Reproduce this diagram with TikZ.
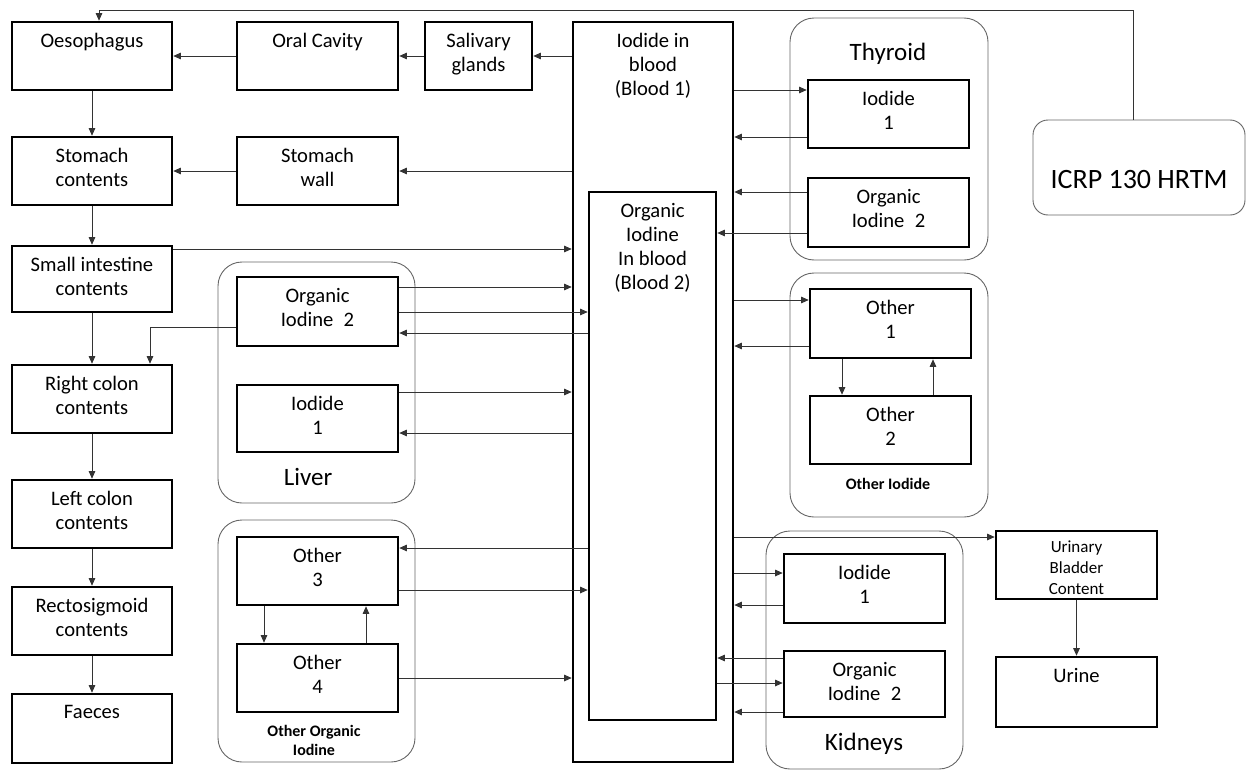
\documentclass[tikz,border=0pt]{standalone}
\usepackage{fontspec}
\setmainfont{Carlito}
\usetikzlibrary{arrows.meta,calc}
\begin{document}
\begin{tikzpicture}[x=1pt,y=-1pt,
  box/.style={draw=black, line width=2.6pt, inner sep=0pt},
  grp/.style={draw=black!60, line width=0.9pt, rounded corners=24pt, inner sep=0pt},
  lab/.style={font=\fontsize{20.6}{24.2}\selectfont, align=center, inner sep=0pt, anchor=north, yshift=-12pt},
  slab/.style={font=\fontsize{17}{21}\selectfont, align=center, inner sep=0pt, anchor=north, yshift=-11pt},
  glab/.style={font=\fontsize{25}{30}\selectfont, inner sep=0pt, anchor=base},
  blab/.style={font=\bfseries\fontsize{16}{18.5}\selectfont, align=center, inner sep=0pt, anchor=base},
  arr/.style={draw=black!80, line width=0.9pt, -{Triangle[length=7.5pt,width=6.5pt]}},
]
\useasboundingbox (0,0) rectangle (1247,771);

% groups
\node[grp, minimum width=198pt, minimum height=242pt] (thy) at (889,139) {};
\node[grp, minimum width=198pt, minimum height=244pt] (oig) at (889,395) {};
\node[grp, minimum width=197pt, minimum height=241pt] (liv) at (316.5,382.5) {};
\node[grp, minimum width=197pt, minimum height=242pt] (ooi) at (316.5,641) {};
\node[grp, minimum width=197pt, minimum height=238pt] (kid) at (864.5,650) {};
\node[glab] (thyl) at (888,60) {Thyroid};
\node[glab] (livl) at (308,485) {Liver};
\node[glab] (kidl) at (864,750) {Kidneys};
\node[blab] (oil) at (888,489) {Other Iodide};
\node[blab] (ooil) at (314,755) {Other Organic\\Iodine};

% ICRP
\node[draw=black!60, line width=0.9pt, rounded corners=15pt, inner sep=0pt,
      minimum width=212pt, minimum height=95pt,
      label={[font=\fontsize{28}{34}\selectfont, anchor=base, inner sep=0pt, yshift=27pt]south:ICRP 130 HRTM}]
      (icrp) at (1139,167.5) {};

% left column
\node[box, minimum width=160pt, minimum height=68pt, label={[lab]north:Oesophagus}] (oes) at (92,56) {};
\node[box, minimum width=160pt, minimum height=68pt, label={[lab]north:Stomach\\contents}] (stc) at (92,171) {};
\node[box, minimum width=160pt, minimum height=66pt, label={[lab]north:Small intestine\\contents}] (sic) at (92,279) {};
\node[box, minimum width=160pt, minimum height=68pt, label={[lab]north:Right colon\\contents}] (rcc) at (92,399) {};
\node[box, minimum width=160pt, minimum height=68pt, label={[lab]north:Left colon\\contents}] (lcc) at (92,514) {};
\node[box, minimum width=160pt, minimum height=68pt, label={[lab]north:Rectosigmoid\\contents}] (rsc) at (92,621) {};
\node[box, minimum width=160pt, minimum height=69pt, label={[lab]north:Faeces}] (fae) at (92,728.5) {};

\node[box, minimum width=161pt, minimum height=68pt, label={[lab]north:Oral Cavity}] (oral) at (317.5,56) {};
\node[box, minimum width=161pt, minimum height=68pt, label={[lab]north:Stomach\\wall}] (stw) at (317.5,171) {};
\node[box, minimum width=107pt, minimum height=68pt, label={[lab]north:Salivary\\glands}] (sal) at (478.5,56) {};

% blood
\node[box, minimum width=160pt, minimum height=740pt, label={[lab]north:Iodide in\\blood\\(Blood 1)}] (b1) at (653,392) {};
\node[box, minimum width=127pt, minimum height=528pt, label={[lab]north:Organic\\Iodine\\In blood\\(Blood 2)}] (b2) at (652.5,456) {};

% liver / other organic
\node[box, minimum width=161pt, minimum height=69pt, label={[lab]north:Organic\\Iodine\enspace 2}] (lv2) at (317.5,311.5) {};
\node[box, minimum width=161pt, minimum height=67pt, label={[lab]north:Iodide\\1}] (lv1) at (317.5,418.5) {};
\node[box, minimum width=161pt, minimum height=68pt, label={[lab]north:Other\\3}] (o3) at (317.5,571) {};
\node[box, minimum width=161pt, minimum height=68pt, label={[lab]north:Other\\4}] (o4) at (317.5,678) {};

% thyroid / other iodide
\node[box, minimum width=161pt, minimum height=68pt, label={[lab]north:Iodide\\1}] (ty1) at (888.5,114) {};
\node[box, minimum width=161pt, minimum height=69pt, label={[lab]north:Organic\\Iodine\enspace 2}] (ty2) at (888.5,212.5) {};
\node[box, minimum width=161pt, minimum height=69pt, label={[lab]north:Other\\1}] (o1) at (890.5,323.5) {};
\node[box, minimum width=161pt, minimum height=68pt, label={[lab]north:Other\\2}] (o2) at (890.5,430) {};

% kidneys
\node[box, minimum width=161pt, minimum height=69pt, label={[lab]north:Iodide\\1}] (k1) at (864.5,588.5) {};
\node[box, minimum width=161pt, minimum height=66pt, label={[lab]north:Organic\\Iodine\enspace 2}] (k2) at (864.5,684) {};

% bladder
\node[box, minimum width=161pt, minimum height=68pt, label={[slab]north:Urinary\\Bladder\\Content}] (ubc) at (1076.5,565) {};
\node[box, minimum width=161pt, minimum height=70pt, label={[lab]north:Urine}] (urine) at (1076.5,692) {};

% connectors: GI tract
\draw[arr] (oes.south) -- (stc.north);
\draw[arr] (stc.south) -- (sic.north);
\draw[arr] (sic.south) -- (rcc.north);
\draw[arr] (rcc.south) -- (lcc.north);
\draw[arr] (lcc.south) -- (rsc.north);
\draw[arr] (rsc.south) -- (fae.north);
\draw[arr] (oral.west) -- (oes.east);
\draw[arr] (sal.west) -- (oral.east);
\draw[arr] (b1.west |- sal.east) -- (sal.east);
\draw[arr] (stw.west) -- (stc.east);
\draw[arr] (b1.west |- 0,171) -- (stw.east);
\draw[arr] (sic.east |- 0,249) -- (b1.west |- 0,249);
\draw[arr] (lv2.west |- 0,327) -| ($(rcc.north)+(58,0)$);

% liver
\draw[arr] (lv2.east |- 0,287) -- (b1.west |- 0,287);
\draw[arr] (lv2.east |- 0,312) -- (b2.west |- 0,312);
\draw[arr] (b2.west |- 0,333) -- (lv2.east |- 0,333);
\draw[arr] (lv1.east |- 0,392) -- (b1.west |- 0,392);
\draw[arr] (b1.west |- 0,433) -- (lv1.east |- 0,433);

% other organic
\draw[arr] (b2.west |- 0,548) -- (o3.east |- 0,548);
\draw[arr] (o3.east |- 0,590) -- (b2.west |- 0,590);
\draw[arr] (o4.east |- 0,678) -- (b1.west |- 0,678);
\draw[arr] (o3.south -| 264,0) -- (o4.north -| 264,0);
\draw[arr] (o4.north -| 366,0) -- (o3.south -| 366,0);

% thyroid
\draw[arr] (b1.east |- 0,90) -- (ty1.west |- 0,90);
\draw[arr] (ty1.west |- 0,137) -- (b1.east |- 0,137);
\draw[arr] (ty2.west |- 0,192) -- (b1.east |- 0,192);
\draw[arr] (ty2.west |- 0,233) -- (b2.east |- 0,233);

% other iodide
\draw[arr] (b1.east |- 0,300) -- (o1.west |- 0,300);
\draw[arr] (o1.west |- 0,346) -- (b1.east |- 0,346);
\draw[arr] (o1.south -| 842,0) -- (o2.north -| 842,0);
\draw[arr] (o2.north -| 933,0) -- (o1.south -| 933,0);

% kidneys / bladder
\draw[arr] (b1.east |- 0,537) -- (ubc.west |- 0,537);
\draw[arr] (b1.east |- 0,573) -- (k1.west |- 0,573);
\draw[arr] (k1.west |- 0,605) -- (b1.east |- 0,605);
\draw[arr] (k2.west |- 0,658) -- (b2.east |- 0,658);
\draw[arr] (b2.east |- 0,683) -- (k2.west |- 0,683);
\draw[arr] (k2.west |- 0,712) -- (b1.east |- 0,712);
\draw[arr] (ubc.south) -- (urine.north);

% feedback from HRTM
\coordinate (fb) at (99,10);
\draw[arr] (icrp.north -| 1133,0) |- (fb) -- (oes.north -| fb);
\end{tikzpicture}
\end{document}
